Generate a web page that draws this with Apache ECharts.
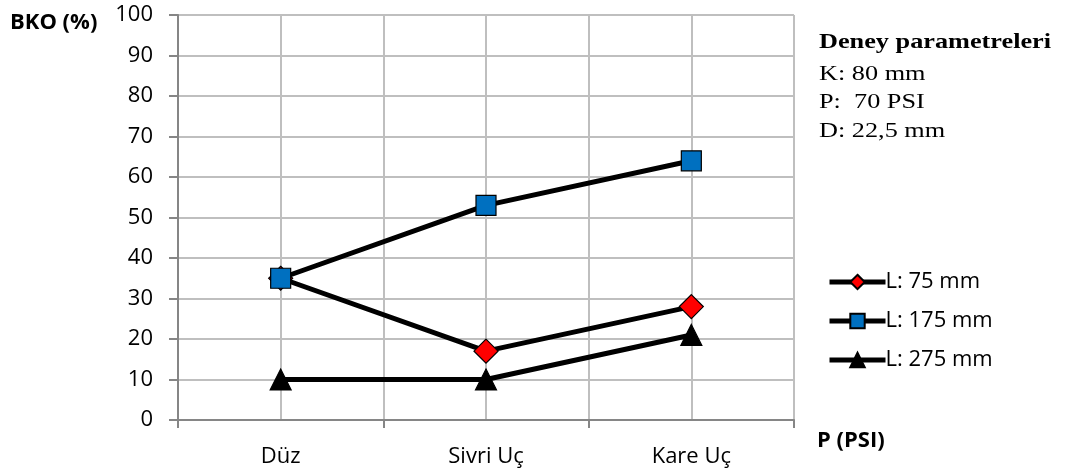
<!DOCTYPE html>
<html><head><meta charset="utf-8">
<script src="https://cdn.jsdelivr.net/npm/echarts@6/dist/echarts.min.js"></script>
<style>html,body{margin:0;padding:0;background:#fff}#c{width:1066px;height:474px}</style>
</head><body><div id="c"></div>
<script>
const categories = ['Düz', 'Sivri Uç', 'Kare Uç'];
const seriesNames = ['L: 75 mm', 'L: 175 mm', 'L: 275 mm'];
const l75 = [35, 17, 28];
const l175 = [35, 53, 64];
const l275 = [10, 10, 21];
const yTicks = [0, 10, 20, 30, 40, 50, 60, 70, 80, 90, 100];
const paramLines = ['K: 80 mm', 'P:  70 PSI', 'D: 22,5 mm'];

const chart = echarts.init(document.getElementById('c'));
const font = 'Open Sans';
const mk = (name, data, symbol, color, size) => ({
  name, type: 'line', data, xAxisIndex: 0, yAxisIndex: 0,
  symbol, symbolSize: size,
  lineStyle: { color: '#000', width: 5 },
  itemStyle: { color, borderColor: '#000', borderWidth: 1.2 },
  emphasis: { disabled: true }, animation: false, z: 3
});
chart.setOption({
  animation: false,
  grid: { left: 178, right: 272, top: 15, bottom: 54 },
  xAxis: [{
    type: 'category', data: categories, boundaryGap: true,
    axisLine: { lineStyle: { color: '#868686', width: 2 } },
    axisTick: { show: true, length: 8, lineStyle: { color: '#868686', width: 2 } },
    axisLabel: { color: '#000', fontFamily: font, fontSize: 22, margin: 26 },
    splitLine: { show: false }
  }, {
    type: 'value', min: 0, max: 3, interval: 0.5,
    show: true, position: 'bottom',
    axisLine: { show: false }, axisTick: { show: false }, axisLabel: { show: false },
    splitLine: { show: true, lineStyle: { color: '#BFBFBF', width: 2 } }
  }],
  yAxis: {
    type: 'value', min: yTicks[0], max: yTicks[yTicks.length - 1], interval: 10,
    axisLine: { show: true, lineStyle: { color: '#868686', width: 2 } },
    axisTick: { show: true, length: 9, lineStyle: { color: '#868686', width: 2 } },
    axisLabel: { color: '#000', fontFamily: font, fontSize: 22, margin: 25 },
    splitLine: { show: true, lineStyle: { color: '#BFBFBF', width: 2 } }
  },
  legend: {
    orient: 'vertical', left: 822, top: 266, itemGap: 17,
    itemWidth: 56, itemHeight: 18,
    lineStyle: { width: 5 },
    textStyle: { color: '#000', fontFamily: font, fontSize: 22, padding: [0, 0, 0, -5] },
    data: seriesNames
  },
  series: [
    mk(seriesNames[0], l75, 'diamond', '#FF0000', 24),
    mk(seriesNames[1], l175, 'rect', '#0070C0', 20),
    mk(seriesNames[2], l275, 'triangle', '#000000', 21)
  ],
  graphic: [
    { type: 'text', left: 10, top: 12, style: { text: 'BKO (%)', font: 'bold 22px "Open Sans"', fill: '#000' } },
    { type: 'text', left: 817, top: 430, style: { text: 'P (PSI)', font: 'bold 22px "Open Sans"', fill: '#000' } },
    { type: 'text', x: 819, y: 32, scaleX: 1.25, style: { text: 'Deney parametreleri', font: 'bold 21px "Liberation Serif"', fill: '#000' } },
    { type: 'text', x: 819, y: 60, scaleX: 1.25, style: { text: paramLines.join('\n'), font: '21px "Liberation Serif"', lineHeight: 28.5, fill: '#000' } }
  ]
});
</script></body></html>
